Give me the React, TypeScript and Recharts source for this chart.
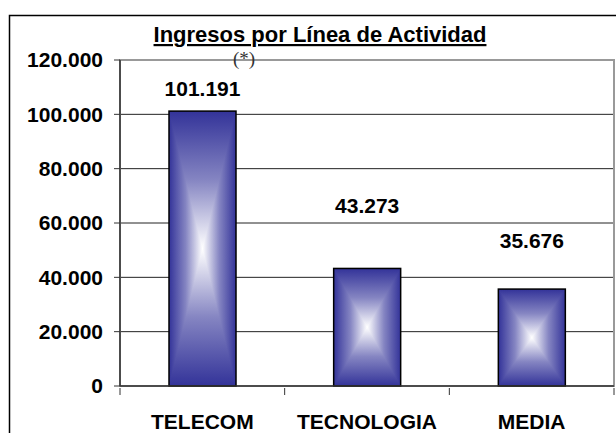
import { BarChart, Bar, XAxis, YAxis, CartesianGrid, LabelList, ReferenceArea } from 'recharts';

const categories = ["TELECOM", "TECNOLOGIA", "MEDIA"];
const ingresos = [101191, 43273, 35676];
const yTicks = [0, 20000, 40000, 60000, 80000, 100000, 120000];

// labels were dragged by hand in the original, so each sits at its own height above its bar
const labelLift = [23, 63, 49];

const data = categories.map((name, i) => ({ name, value: ingresos[i] }));

const W = 616;
const H = 433;
const margin = { top: 60, right: 2, bottom: 0, left: 0 };
const yAxisWidth = 120;
const xAxisHeight = 47;
const band = (W - margin.left - margin.right - yAxisWidth) / categories.length;

const BLUE = "#333399";
const MID = "#8585c2";
const FONT = "'Liberation Sans', Arial, sans-serif";

const fmt = (v: number) => String(v).replace(/\B(?=(\d{3})+(?!\d))/g, ".");

// Excel-style "from center" gradient: vertical ramp, then horizontal ramp blended with "darken"
const GradientBar = (props: any) => {
  const { x, y, width, height } = props;
  if (!height || height <= 0) return null;
  return (
    <g style={{ isolation: "isolate" }}>
      <rect x={x} y={y} width={width} height={height} fill="url(#gVert)" />
      <rect x={x} y={y} width={width} height={height} fill="url(#gHorz)" style={{ mixBlendMode: "darken" }} />
      <rect x={x} y={y} width={width} height={height} fill="none" stroke="#000" strokeWidth={1.5} />
    </g>
  );
};

const ValueLabel = (props: any) => {
  const { x, y, width, value, index } = props;
  return (
    <text
      x={x + width / 2}
      y={y - labelLift[index]}
      dy="0.355em"
      textAnchor="middle"
      fontFamily={FONT}
      fontWeight="bold"
      fontSize={21}
      fill="#000"
    >
      {fmt(value)}
    </text>
  );
};

const CategoryTick = (props: any) => {
  const { x, y, payload, index } = props;
  const half = band / 2;
  return (
    <g>
      <line x1={x - half} y1={y} x2={x - half} y2={y + 7} stroke="#333" />
      {index === categories.length - 1 && (
        <line x1={x + half} y1={y} x2={x + half} y2={y + 7} stroke="#333" />
      )}
      <text x={x} y={y + 41} textAnchor="middle" fontFamily={FONT} fontWeight="bold" fontSize={21} fill="#000">
        {payload.value}
      </text>
    </g>
  );
};

const ValueTick = (props: any) => {
  const { x, y, payload } = props;
  return (
    <text x={x} y={y} dy="0.355em" textAnchor="end" fontFamily={FONT} fontWeight="bold" fontSize={21} fill="#000">
      {fmt(payload.value)}
    </text>
  );
};

export default function App() {
  return (
    <div style={{ position: "fixed", left: 0, top: 0, width: W, height: H, overflow: "hidden", background: "#fff" }}>
      <BarChart width={W} height={H} data={data} margin={margin}>
        <defs>
          <linearGradient id="gVert" x1="0" y1="0" x2="0" y2="1">
            <stop offset="0%" stopColor={BLUE} />
            <stop offset="25%" stopColor={MID} />
            <stop offset="50%" stopColor="#ffffff" />
            <stop offset="75%" stopColor={MID} />
            <stop offset="100%" stopColor={BLUE} />
          </linearGradient>
          <linearGradient id="gHorz" x1="0" y1="0" x2="1" y2="0">
            <stop offset="0%" stopColor={BLUE} />
            <stop offset="25%" stopColor={MID} />
            <stop offset="50%" stopColor="#ffffff" />
            <stop offset="75%" stopColor={MID} />
            <stop offset="100%" stopColor={BLUE} />
          </linearGradient>
        </defs>
        <CartesianGrid vertical={false} stroke="#222" strokeWidth={1} />
        <ReferenceArea y1={0} y2={120000} fill="none" stroke="#999" strokeWidth={2} />
        <XAxis
          dataKey="name"
          height={xAxisHeight}
          axisLine={{ stroke: "#333", strokeWidth: 1.5 }}
          tickLine={false}
          tickSize={0}
          tick={<CategoryTick />}
          interval={0}
        />
        <YAxis
          width={yAxisWidth}
          domain={[0, 120000]}
          ticks={yTicks}
          interval={0}
          axisLine={{ stroke: "#333", strokeWidth: 1.5 }}
          tickLine={{ stroke: "#333" }}
          tickSize={6}
          tickMargin={11}
          tick={<ValueTick />}
        />
        <Bar dataKey="value" barSize={67} shape={<GradientBar />} isAnimationActive={false}>
          <LabelList dataKey="value" content={<ValueLabel />} />
        </Bar>
      </BarChart>
      <svg width={W} height={H} style={{ position: "absolute", left: 0, top: 0, pointerEvents: "none" }}>
        <path d={`M 9.5 ${H} V 15.5 H ${W}`} fill="none" stroke="#000" strokeWidth={1.5} />
        <text
          x={320}
          y={42}
          textAnchor="middle"
          fontFamily={FONT}
          fontWeight="bold"
          fontSize={22}
          textDecoration="underline"
          fill="#000"
        >
          Ingresos por Línea de Actividad
        </text>
        <text x={244} y={65} textAnchor="middle" fontFamily="'Liberation Serif', serif" fontSize={19} fill="#333">
          (*)
        </text>
      </svg>
    </div>
  );
}
